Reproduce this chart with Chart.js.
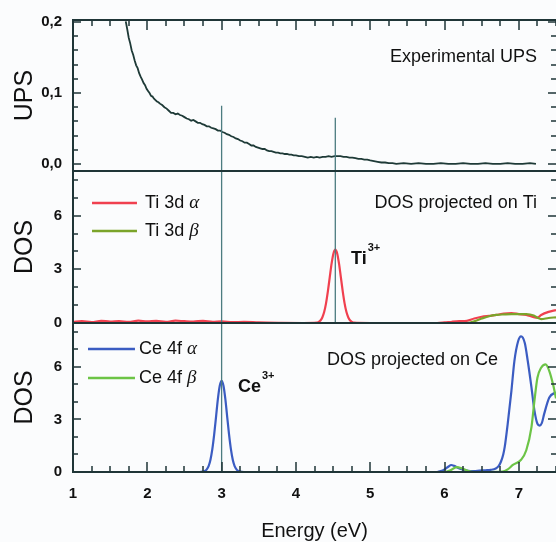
<!DOCTYPE html>
<html>
<head>
<meta charset="utf-8">
<script src="https://cdn.jsdelivr.net/npm/chart.js@4.4.1/dist/chart.umd.min.js"></script>
<style>
  html, body { margin: 0; padding: 0; background: #fbfcfd; }
  #wrap { position: relative; width: 556px; height: 542px; overflow: hidden; background: #fbfcfd; }
  #wrap canvas { position: absolute; left: 0; top: 0; }
</style>
</head>
<body>
<div id="wrap">
  <canvas id="ups" width="556" height="542"></canvas>
  <canvas id="ti" width="556" height="542"></canvas>
  <canvas id="ce" width="556" height="542"></canvas>
</div>
<script>
// ---- data ----
const energyTicks = [1, 2, 3, 4, 5, 6, 7];
const upsTicks = [0, 0.1, 0.2];
const upsTickLabels = ['0,0', '0,1', '0,2'];
const dosTicks = [0, 3, 6];
const dosTickLabels = ['0', '3', '6'];

// vertical guide lines (energy, height reached in the UPS panel)
const markerE = [3.0, 4.53];
const markerUpsTop = [0.082, 0.065];

// Experimental UPS
const upsE = [1.71, 1.73, 1.75, 1.77, 1.79, 1.81, 1.83, 1.85, 1.87, 1.89, 1.91, 1.93, 1.95, 1.97, 1.99,
  2.01, 2.03, 2.05, 2.07, 2.09, 2.11, 2.13, 2.15, 2.17, 2.20, 2.23, 2.26, 2.29, 2.32, 2.35, 2.38, 2.41,
  2.44, 2.47, 2.50, 2.53, 2.56, 2.59, 2.62, 2.65, 2.68, 2.71, 2.74, 2.77, 2.80, 2.83, 2.86, 2.89, 2.92,
  2.95, 2.98, 3.01, 3.04, 3.07, 3.10, 3.13, 3.16, 3.19, 3.22, 3.25, 3.28, 3.31, 3.34, 3.37, 3.40, 3.43,
  3.46, 3.49, 3.52, 3.55, 3.58, 3.61, 3.64, 3.67, 3.70, 3.73, 3.76, 3.79, 3.82, 3.85, 3.88, 3.91, 3.94,
  3.97, 4.00, 4.04, 4.08, 4.12, 4.16, 4.20, 4.24, 4.28, 4.32, 4.36, 4.40, 4.44, 4.48, 4.52, 4.56, 4.60,
  4.64, 4.68, 4.72, 4.76, 4.80, 4.84, 4.88, 4.92, 4.96, 5.00, 5.05, 5.10, 5.15, 5.20, 5.25, 5.30, 5.35,
  5.45, 5.55, 5.65, 5.75, 5.85, 5.95, 6.05, 6.15, 6.25, 6.35, 6.45, 6.55, 6.65, 6.75, 6.85, 6.95, 7.05,
  7.15, 7.23];
const upsY = [0.201, 0.190, 0.178, 0.170, 0.160, 0.154, 0.146, 0.139, 0.135, 0.128, 0.123, 0.119, 0.114, 0.111, 0.106,
  0.103, 0.100, 0.096, 0.095, 0.092, 0.090, 0.088, 0.087, 0.085, 0.083, 0.080, 0.078, 0.075, 0.072, 0.072, 0.070, 0.071,
  0.069, 0.068, 0.066, 0.064, 0.063, 0.061, 0.062, 0.060, 0.058, 0.058, 0.056, 0.055, 0.053, 0.053, 0.051, 0.050, 0.049,
  0.047, 0.047, 0.045, 0.044, 0.042, 0.041, 0.039, 0.038, 0.036, 0.035, 0.033, 0.032, 0.030, 0.030, 0.028, 0.026, 0.026,
  0.024, 0.023, 0.022, 0.021, 0.021, 0.019, 0.018, 0.018, 0.017, 0.016, 0.016, 0.015, 0.015, 0.014, 0.014, 0.013, 0.013,
  0.012, 0.012, 0.011, 0.011, 0.010, 0.009, 0.010, 0.009, 0.010, 0.009, 0.010, 0.010, 0.011, 0.010, 0.011, 0.011, 0.011,
  0.010, 0.010, 0.009, 0.009, 0.008, 0.007, 0.007, 0.006, 0.006, 0.005, 0.004, 0.003, 0.002, 0.002, 0.001, 0.001, 0.000,
  0.001, 0.000, 0.001, 0.000, 0.000, 0.001, 0.000, 0.000, 0.001, 0.000, 0.000, 0.001, 0.000, 0.000, 0.001, 0.000, 0.000,
  0.001, 0.000];

// DOS projected on Ti
const tiAlphaE = [1.00, 1.12, 1.25, 1.38, 1.50, 1.62, 1.75, 1.88, 2.00, 2.12, 2.25, 2.38, 2.50, 2.62, 2.75, 2.88,
  3.00, 3.15, 3.30, 3.50, 3.80, 4.10, 4.28, 4.305, 4.33, 4.355, 4.38, 4.405, 4.43, 4.455, 4.48, 4.505, 4.53,
  4.555, 4.58, 4.605, 4.63, 4.655, 4.68, 4.705, 4.73, 4.755, 4.78, 5.00, 5.50, 5.90, 6.00, 6.10, 6.20, 6.30,
  6.40, 6.50, 6.60, 6.70, 6.80, 6.90, 7.00, 7.10, 7.20, 7.25, 7.30, 7.40, 7.50];
const tiAlpha = [0.06, 0.10, 0.05, 0.12, 0.08, 0.11, 0.06, 0.13, 0.09, 0.12, 0.07, 0.13, 0.10, 0.08, 0.12, 0.07,
  0.09, 0.05, 0.06, 0.03, 0.01, 0.00, 0.02, 0.06, 0.14, 0.31, 0.61, 1.10, 1.77, 2.55, 3.32, 3.89, 4.10,
  3.89, 3.32, 2.55, 1.77, 1.10, 0.61, 0.31, 0.14, 0.06, 0.02, 0.00, 0.00, 0.00, 0.03, 0.07, 0.10, 0.12,
  0.25, 0.35, 0.40, 0.45, 0.53, 0.55, 0.50, 0.45, 0.33, 0.30, 0.45, 0.62, 0.72];
const tiBetaE = [1.00, 6.30, 6.40, 6.50, 6.60, 6.70, 6.80, 6.90, 7.00, 7.10, 7.20, 7.25, 7.30, 7.40, 7.50];
const tiBeta = [0.00, 0.00, 0.10, 0.25, 0.38, 0.45, 0.48, 0.50, 0.50, 0.50, 0.42, 0.30, 0.22, 0.28, 0.32];

// DOS projected on Ce
const ceAlphaE = [1.00, 2.70, 2.75, 2.775, 2.80, 2.825, 2.85, 2.875, 2.90, 2.925, 2.95, 2.975, 3.00, 3.025, 3.05,
  3.075, 3.10, 3.125, 3.15, 3.175, 3.20, 3.225, 3.25, 3.30, 5.90, 5.95, 6.00, 6.05, 6.09, 6.13, 6.20, 6.30,
  6.40, 6.47, 6.55, 6.62, 6.69, 6.73, 6.76, 6.79, 6.81, 6.85, 6.90, 6.94, 6.99, 7.03, 7.08, 7.12, 7.17, 7.21,
  7.25, 7.28, 7.31, 7.34, 7.41, 7.50];
const ceAlpha = [0.00, 0.00, 0.02, 0.06, 0.15, 0.34, 0.70, 1.30, 2.14, 3.15, 4.17, 4.92, 5.20, 4.92, 4.17,
  3.15, 2.14, 1.30, 0.70, 0.34, 0.15, 0.06, 0.02, 0.00, 0.00, 0.05, 0.15, 0.30, 0.40, 0.35, 0.20, 0.08,
  0.05, 0.08, 0.10, 0.12, 0.20, 0.35, 0.60, 1.00, 1.43, 2.75, 4.63, 6.33, 7.46, 7.74, 7.36, 6.33, 4.82, 3.50,
  2.75, 2.65, 2.80, 3.30, 4.25, 4.55];
const ceBetaE = [1.00, 6.00, 6.08, 6.16, 6.24, 6.32, 6.40, 6.60, 6.78, 6.85, 6.92, 7.03, 7.10, 7.17, 7.21, 7.25,
  7.30, 7.36, 7.41, 7.46, 7.50];
const ceBeta = [0.00, 0.00, 0.10, 0.28, 0.20, 0.06, 0.00, 0.00, 0.02, 0.15, 0.40, 0.70, 1.24, 2.56, 4.07, 5.38,
  5.95, 6.14, 5.76, 5.00, 4.20];

// ---- styling ----
const SANS = "'Liberation Sans', Arial, sans-serif";
const SERIF = "'Liberation Serif', 'Times New Roman', serif";
const AXIS = '#1f3537';
const INK = '#111111';
const MARK = '#4c7c80';
const RED = '#f0404f';
const OLIVE = '#7ba42a';
const BLUE = '#3b5cc2';
const GREEN = '#6cc446';
const UPS_INK = '#1e3a37';

Chart.defaults.font.family = SANS;
Chart.defaults.color = INK;

const pts = (xs, ys) => xs.map((x, i) => ({ x: x, y: ys[i] }));

function curve(data, color, order) {
  return { data: data, borderColor: color, borderWidth: 2.2, pointRadius: 0, fill: false,
           cubicInterpolationMode: 'monotone', order: order };
}
function marker(e, top, bottom) {
  return { data: [{ x: e, y: top }, { x: e, y: bottom }], borderColor: MARK, borderWidth: 1.3,
           pointRadius: 0, fill: false, order: 0 };
}

const isMajor = (v, m) => Math.abs(v / m - Math.round(v / m)) < 1e-6;

// frame, inward ticks, in-panel labels and legend (one plugin per panel)
function makeDecor(cfg) {
  return {
    id: 'decor_' + cfg.name,
    afterDraw(chart) {
      const ctx = chart.ctx;
      const a = chart.chartArea;
      const sx = chart.scales.x, sy = chart.scales.y;
      ctx.save();

      // inward ticks: 0.25 eV minor / 1 eV major on x, minor/major on y (both sides)
      ctx.fillStyle = AXIS;
      for (let i = 0; i <= 26; i++) {
        const v = 1 + i * 0.25;
        const px = Math.round(sx.getPixelForValue(v));
        const len = isMajor(v, 1) ? 10 : 6;
        if (cfg.topTicks) ctx.fillRect(px - 0.75, a.top, 1.5, len);
        if (cfg.bottomTicks) ctx.fillRect(px - 0.75, a.bottom - len, 1.5, len);
      }
      const ny = Math.floor(cfg.yMax / cfg.yMinor + 1e-6);
      for (let i = 0; i <= ny; i++) {
        const v = i * cfg.yMinor;
        const py = Math.round(sy.getPixelForValue(v));
        const len = isMajor(v, cfg.yMajor) ? 8 : 5;
        ctx.fillRect(a.left, py - 0.75, len, 1.5);
        ctx.fillRect(a.right - len, py - 0.75, len, 1.5);
      }

      // frame (right edge falls outside the picture)
      ctx.strokeStyle = AXIS;
      ctx.lineWidth = 2;
      ctx.beginPath();
      ctx.moveTo(a.right, a.top); ctx.lineTo(a.left, a.top);
      ctx.lineTo(a.left, a.bottom); ctx.lineTo(a.right, a.bottom);
      ctx.stroke();

      ctx.fillStyle = INK;
      (cfg.notes || []).forEach(n => {
        const px = sx.getPixelForValue(n.x), py = sy.getPixelForValue(n.y);
        ctx.font = (n.bold ? 'bold ' : '') + '18px ' + SANS;
        ctx.textAlign = n.align;
        ctx.textBaseline = n.sup ? 'alphabetic' : 'middle';
        ctx.fillText(n.text, px, py);
        if (n.sup) {
          const w = ctx.measureText(n.text).width;
          ctx.font = 'bold 11px ' + SANS;
          ctx.textAlign = 'left';
          ctx.fillText(n.sup, px + w + 1, py - 13);
        }
      });

      (cfg.legend || []).forEach(l => {
        const py = sy.getPixelForValue(l.y);
        ctx.strokeStyle = l.color;
        ctx.lineWidth = 2.5;
        ctx.beginPath();
        ctx.moveTo(sx.getPixelForValue(l.x1), py);
        ctx.lineTo(sx.getPixelForValue(l.x2), py);
        ctx.stroke();
        const tx = sx.getPixelForValue(l.tx);
        ctx.textAlign = 'left';
        ctx.textBaseline = 'middle';
        ctx.font = '18px ' + SANS;
        ctx.fillText(l.label, tx, py);
        const w = ctx.measureText(l.label).width;
        ctx.font = 'italic 19px ' + SERIF;
        ctx.fillText(l.greek, tx + w, py);
      });
      ctx.restore();
    }
  };
}

function panelOptions(p) {
  return {
    responsive: false,
    animation: false,
    events: [],
    layout: { padding: { top: p.top, bottom: p.bottom, left: 0, right: 0 } },
    plugins: { legend: { display: false }, tooltip: { enabled: false } },
    scales: {
      x: {
        type: 'linear', min: 1, max: 7.5,
        afterBuildTicks: s => { s.ticks = energyTicks.map(v => ({ value: v })); },
        afterFit: s => { s.height = p.xHeight; },
        grid: { display: false, drawTicks: false },
        border: { display: false },
        ticks: { display: p.xLabels, padding: 13, font: { size: 15, weight: 'bold' } },
        title: { display: p.xLabels, text: 'Energy (eV)', font: { size: 20, lineHeight: 1 },
                 padding: { top: 0, bottom: 1 } }
      },
      y: {
        type: 'linear', min: p.yMin, max: p.yMax,
        afterBuildTicks: s => { s.ticks = p.yTicks.map(v => ({ value: v })); },
        afterFit: s => { s.width = 73; },
        grid: { display: false, drawTicks: false },
        border: { display: false },
        ticks: { padding: 11, font: { size: 15, weight: 'bold' }, callback: (v, i) => p.yLabels[i] },
        title: { display: true, text: p.yTitle, font: { size: 25, lineHeight: 1.2 },
                 padding: { top: 10, bottom: 0 } }
      }
    }
  };
}

// ---- top: experimental UPS ----
new Chart(document.getElementById('ups'), {
  type: 'line',
  data: { datasets: [
    marker(markerE[0], markerUpsTop[0], -0.01),
    marker(markerE[1], markerUpsTop[1], -0.01),
    { data: pts(upsE, upsY), borderColor: UPS_INK, borderWidth: 1.8, pointRadius: 0, fill: false,
      tension: 0, order: 1 }
  ] },
  options: panelOptions({
    top: 20, bottom: 542 - 171, xHeight: 0, xLabels: false,
    yMin: -0.01, yMax: 0.203, yTicks: upsTicks, yLabels: upsTickLabels, yTitle: 'UPS'
  }),
  plugins: [makeDecor({ name: 'ups', topTicks: true, bottomTicks: false, yMax: 0.203, yMinor: 0.02, yMajor: 0.1,
    notes: [{ text: 'Experimental UPS', x: 7.244, y: 0.151, align: 'right' }] })]
});

// ---- middle: DOS projected on Ti ----
new Chart(document.getElementById('ti'), {
  type: 'line',
  data: { datasets: [
    marker(markerE[0], 8.5, 0),
    marker(markerE[1], 8.5, 0),
    curve(pts(tiBetaE, tiBeta), OLIVE, 1),
    curve(pts(tiAlphaE, tiAlpha), RED, 2)
  ] },
  options: panelOptions({
    top: 171, bottom: 542 - 323, xHeight: 0, xLabels: false,
    yMin: 0, yMax: 8.5, yTicks: dosTicks, yLabels: dosTickLabels, yTitle: 'DOS'
  }),
  plugins: [makeDecor({ name: 'ti', topTicks: false, bottomTicks: false, yMax: 8.5, yMinor: 1, yMajor: 3,
    notes: [
      { text: 'DOS projected on Ti', x: 7.244, y: 6.71, align: 'right' },
      { text: 'Ti', sup: '3+', x: 4.741, y: 3.30, bold: true, align: 'left' }
    ],
    legend: [
      { x1: 1.256, x2: 1.861, tx: 1.969, y: 6.71, color: RED, label: 'Ti 3d ', greek: '\u03b1' },
      { x1: 1.256, x2: 1.861, tx: 1.969, y: 5.15, color: OLIVE, label: 'Ti 3d ', greek: '\u03b2' }
    ] })]
});

// ---- bottom: DOS projected on Ce ----
new Chart(document.getElementById('ce'), {
  type: 'line',
  data: { datasets: [
    marker(markerE[0], 8.5, 0),
    curve(pts(ceBetaE, ceBeta), GREEN, 1),
    curve(pts(ceAlphaE, ceAlpha), BLUE, 2)
  ] },
  options: panelOptions({
    top: 323, bottom: 0, xHeight: 70, xLabels: true,
    yMin: 0, yMax: 8.5, yTicks: dosTicks, yLabels: dosTickLabels, yTitle: 'DOS'
  }),
  plugins: [makeDecor({ name: 'ce', topTicks: false, bottomTicks: true, yMax: 8.5, yMinor: 1, yMajor: 3,
    notes: [
      { text: 'DOS projected on Ce', x: 6.72, y: 6.39, align: 'right' },
      { text: 'Ce', sup: '3+', x: 3.22, y: 4.56, bold: true, align: 'left' }
    ],
    legend: [
      { x1: 1.202, x2: 1.834, tx: 1.888, y: 7.02, color: BLUE, label: 'Ce 4f ', greek: '\u03b1' },
      { x1: 1.202, x2: 1.834, tx: 1.888, y: 5.36, color: GREEN, label: 'Ce 4f ', greek: '\u03b2' }
    ] })]
});
</script>
</body>
</html>
